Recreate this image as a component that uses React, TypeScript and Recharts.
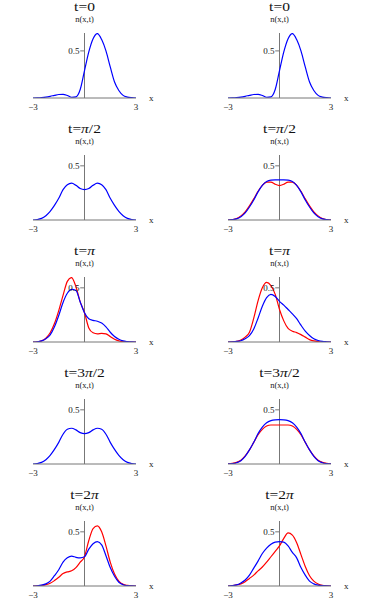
import React from "react";
import { LineChart, Line, XAxis, YAxis, ReferenceLine, ReferenceDot } from "recharts";

const SERIF = "'Liberation Serif', 'Times New Roman', serif";

// sample positions on the x axis
const XS = [-3, -2.75, -2.5, -2.25, -2, -1.75, -1.5, -1.25, -1, -0.75, -0.5, -0.25, 0,
  0.25, 0.5, 0.75, 1, 1.25, 1.5, 1.75, 2, 2.25, 2.5, 2.75, 3];
const X_TICKS = [-3, 3];

// t = 0 (same in both columns)
const T0_BLUE = [0, 0.002, 0.005, 0.01, 0.018, 0.028, 0.037, 0.038, 0.027, 0.008, 0.012, 0.09, 0.29,
  0.49, 0.63, 0.684, 0.62, 0.5, 0.33, 0.17, 0.08, 0.028, 0.01, 0.003, 0];

// t = pi/2
const T1_LEFT_BLUE = [0, 0.004, 0.015, 0.04, 0.08, 0.135, 0.2, 0.28, 0.325, 0.34, 0.32, 0.29, 0.28,
  0.29, 0.32, 0.34, 0.325, 0.28, 0.2, 0.135, 0.08, 0.04, 0.015, 0.004, 0];
const T1_RIGHT_RED = [0, 0.004, 0.014, 0.038, 0.075, 0.13, 0.195, 0.265, 0.32, 0.35, 0.35, 0.33, 0.318,
  0.33, 0.35, 0.35, 0.32, 0.265, 0.195, 0.13, 0.075, 0.038, 0.014, 0.004, 0];
const T1_RIGHT_BLUE = [0, 0.003, 0.01, 0.03, 0.065, 0.12, 0.185, 0.26, 0.32, 0.355, 0.368, 0.37, 0.37,
  0.37, 0.368, 0.355, 0.32, 0.26, 0.185, 0.12, 0.065, 0.03, 0.01, 0.003, 0];

// t = pi
const T2_LEFT_RED = [0, 0.002, 0.01, 0.035, 0.085, 0.17, 0.29, 0.43, 0.56, 0.595, 0.51, 0.37, 0.27,
  0.13, 0.085, 0.075, 0.08, 0.075, 0.05, 0.025, 0.01, 0.003, 0.001, 0, 0];
const T2_LEFT_BLUE = [0, 0.002, 0.01, 0.03, 0.065, 0.14, 0.245, 0.365, 0.45, 0.485, 0.475, 0.37, 0.27,
  0.215, 0.2, 0.192, 0.175, 0.14, 0.09, 0.05, 0.025, 0.01, 0.004, 0.001, 0];
const T2_RIGHT_RED = [0, 0.002, 0.006, 0.018, 0.045, 0.09, 0.22, 0.38, 0.5, 0.55, 0.52, 0.44, 0.3,
  0.195, 0.125, 0.1, 0.087, 0.068, 0.045, 0.022, 0.01, 0.004, 0.001, 0, 0];
const T2_RIGHT_BLUE = [0, 0.002, 0.005, 0.012, 0.03, 0.058, 0.12, 0.22, 0.33, 0.41, 0.44, 0.42, 0.375,
  0.34, 0.3, 0.26, 0.215, 0.155, 0.1, 0.06, 0.03, 0.014, 0.005, 0.002, 0];

// t = 3pi/2
const T3_LEFT_BLUE = [0, 0.004, 0.015, 0.04, 0.08, 0.135, 0.2, 0.275, 0.32, 0.33, 0.315, 0.29, 0.28,
  0.29, 0.315, 0.33, 0.32, 0.275, 0.2, 0.135, 0.08, 0.04, 0.015, 0.004, 0];
const T3_RIGHT_RED = [0.001, 0.005, 0.015, 0.035, 0.075, 0.13, 0.2, 0.27, 0.32, 0.35, 0.36, 0.36, 0.36,
  0.36, 0.36, 0.35, 0.32, 0.27, 0.2, 0.13, 0.075, 0.035, 0.015, 0.005, 0.001];
const T3_RIGHT_BLUE = [0.001, 0.004, 0.012, 0.03, 0.07, 0.13, 0.2, 0.28, 0.34, 0.38, 0.4, 0.408, 0.41,
  0.408, 0.4, 0.38, 0.34, 0.28, 0.2, 0.13, 0.07, 0.03, 0.012, 0.004, 0.001];

// t = 2pi
const T4_LEFT_RED = [0, 0.002, 0.005, 0.012, 0.025, 0.05, 0.08, 0.115, 0.13, 0.14, 0.17, 0.22, 0.27,
  0.42, 0.53, 0.555, 0.5, 0.37, 0.22, 0.11, 0.045, 0.015, 0.005, 0.001, 0];
const T4_LEFT_BLUE = [0, 0.002, 0.008, 0.02, 0.045, 0.095, 0.15, 0.22, 0.26, 0.275, 0.265, 0.26, 0.27,
  0.34, 0.39, 0.41, 0.38, 0.28, 0.17, 0.09, 0.035, 0.012, 0.004, 0.001, 0];
const T4_RIGHT_RED = [0, 0.003, 0.01, 0.02, 0.04, 0.07, 0.1, 0.14, 0.175, 0.22, 0.27, 0.32, 0.37,
  0.44, 0.49, 0.47, 0.4, 0.29, 0.18, 0.095, 0.045, 0.018, 0.006, 0.002, 0];
const T4_RIGHT_BLUE = [0, 0.003, 0.01, 0.028, 0.055, 0.1, 0.165, 0.23, 0.3, 0.35, 0.385, 0.405, 0.41,
  0.405, 0.37, 0.31, 0.26, 0.17, 0.1, 0.045, 0.02, 0.008, 0.003, 0.001, 0];

const ROW_TIMES = ["0", "π/2", "π", "3π/2", "2π"];
const ROW_YMAX = [0.69, 0.6, 0.6, 0.6, 0.6];

const PANELS: { row: number; col: number; red?: number[]; blue: number[] }[] = [
  { row: 0, col: 0, blue: T0_BLUE },
  { row: 0, col: 1, blue: T0_BLUE },
  { row: 1, col: 0, blue: T1_LEFT_BLUE },
  { row: 1, col: 1, red: T1_RIGHT_RED, blue: T1_RIGHT_BLUE },
  { row: 2, col: 0, red: T2_LEFT_RED, blue: T2_LEFT_BLUE },
  { row: 2, col: 1, red: T2_RIGHT_RED, blue: T2_RIGHT_BLUE },
  { row: 3, col: 0, blue: T3_LEFT_BLUE },
  { row: 3, col: 1, red: T3_RIGHT_RED, blue: T3_RIGHT_BLUE },
  { row: 4, col: 0, red: T4_LEFT_RED, blue: T4_LEFT_BLUE },
  { row: 4, col: 1, red: T4_RIGHT_RED, blue: T4_RIGHT_BLUE },
];

const CHART_W = 188;
const CHART_H = 122;
const COL_LEFT = [0, 195];
const ROW_PITCH = 122;
const AXIS_Y = 98; // baseline of first row

function Panel({ row, col, red, blue }: { row: number; col: number; red?: number[]; blue: number[] }) {
  const data = XS.map((x, i) => ({ x, red: red ? red[i] : undefined, blue: blue[i] }));
  const yMax = ROW_YMAX[row];
  return (
    <div style={{ position: "absolute", left: COL_LEFT[col], top: row * ROW_PITCH }}>
      <LineChart width={CHART_W} height={CHART_H} data={data} margin={{ top: 33, right: 52, bottom: 10, left: 33 }}>
        <XAxis
          type="number"
          dataKey="x"
          domain={[-3, 3]}
          ticks={X_TICKS}
          tickFormatter={(v) => (v < 0 ? "\u22123" : "3")}
          axisLine={{ stroke: "#777" }}
          tickLine={false}
          tickSize={4}
          height={14}
          tick={{ fontSize: 9, fill: "#222", fontFamily: SERIF }}
        />
        <YAxis hide type="number" domain={[0, yMax]} allowDataOverflow />
        <ReferenceLine x={0} stroke="#777" />
        <ReferenceLine segment={[{ x: -0.25, y: 0.5 }, { x: 0, y: 0.5 }]} stroke="#777" />
        <ReferenceDot
          x={0}
          y={0.5}
          r={2}
          fill="none"
          stroke="none"
          label={{ value: "0.5", position: "left", offset: 3, fontSize: 9, fill: "#222", fontFamily: SERIF }}
        />
        <ReferenceDot
          x={3}
          y={0}
          r={2}
          fill="none"
          stroke="none"
          label={{ value: "x", position: "right", offset: 11, fontSize: 9, fill: "#222", fontFamily: SERIF }}
        />
        {red && (
          <Line type="monotone" dataKey="red" stroke="#ff0000" strokeWidth={1.2} dot={false} isAnimationActive={false} />
        )}
        <Line type="monotone" dataKey="blue" stroke="#0000ff" strokeWidth={1.2} dot={false} isAnimationActive={false} />
      </LineChart>
    </div>
  );
}

function Title({ cx, base, time }: { cx: number; base: number; time: string }) {
  // split "3π/2" style labels so the pi is italic
  const parts = time.split("π");
  return (
    <g>
      <text
        transform={`translate(${cx},${base - 87}) scale(1,0.82)`}
        textAnchor="middle"
        fontSize={15.5}
        fontFamily={SERIF}
        fill="#111"
      >
        t={parts[0]}
        {parts.length > 1 && <tspan fontStyle="italic">π</tspan>}
        {parts.length > 1 && parts[1]}
      </text>
      <text
        transform={`translate(${cx},${base - 76}) scale(1,0.9)`}
        textAnchor="middle"
        fontSize={8.5}
        fontFamily={SERIF}
        fill="#222"
      >
        n(x,t)
      </text>
    </g>
  );
}

export default function App() {
  return (
    <div style={{ position: "absolute", left: 0, top: 0, width: 377, height: 600, background: "#fff" }}>
      {PANELS.map((p) => (
        <Panel key={`${p.row}-${p.col}`} {...p} />
      ))}
      <svg width={377} height={600} style={{ position: "absolute", left: 0, top: 0, pointerEvents: "none" }}>
        {ROW_TIMES.map((t, r) =>
          [0, 1].map((c) => (
            <Title key={`${r}-${c}`} cx={COL_LEFT[c] + 33 + 51.5} base={AXIS_Y + r * ROW_PITCH} time={t} />
          ))
        )}
      </svg>
    </div>
  );
}
